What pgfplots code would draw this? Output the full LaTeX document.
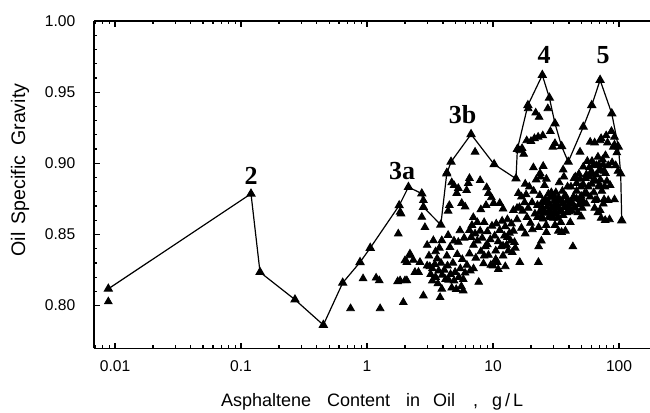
\documentclass[border=0pt]{standalone}
\usepackage{fontspec}
\setmainfont{Liberation Sans}
\newfontfamily\tnr{Liberation Serif}
\usepackage{pgfplots}
\pgfplotsset{compat=1.18}

\pgfplotstableread{
x y
0.00885 0.8028
0.74 0.798
0.93 0.819
1.18 0.8195
1.25 0.8176
1.27 0.798
1.77 0.8505
1.83 0.8657
1.86 0.8646
1.75 0.817
1.83 0.8176
1.94 0.8023
2.0 0.8176
2.07 0.8176
2.07 0.8305
2.19 0.8364
2.19 0.8352
2.33 0.832
2.40 0.8235
2.56 0.8235
2.0 0.8317
2.72 0.8622
2.80 0.874
2.88 0.855
2.80 0.807
2.63 0.8305
3.0 0.828
3.1 0.835
3.2 0.822
3.3 0.826
3.36 0.8458
3.45 0.829
3.5 0.82
3.6 0.833
3.7 0.8245
3.8 0.8058
3.86 0.83
3.92 0.8458
3.92 0.8117
3.5 0.838
3.3 0.8175
3.65 0.8155
3.0 0.8425
3.15 0.8275
3.75 0.8405
3.95 0.8215
4.1 0.825
4.2 0.8185
4.3 0.835
4.35 0.828
4.45 0.818
4.55 0.841
4.6 0.822
4.7 0.8125
4.8 0.830
4.9 0.8175
5.0 0.8235
5.1 0.8115
5.15 0.879
5.2 0.836
5.3 0.8446
5.35 0.82
5.46 0.8528
5.5 0.826
5.6 0.8135
5.64 0.872
5.7 0.8325
5.8 0.8185
5.9 0.8475
6.0 0.823
4.4 0.8495
4.9 0.8455
4.5 0.8705
4.7 0.8865
4.9 0.8845
5.3 0.8825
4.3 0.8935
4.4 0.8665
5.8 0.8105
6.17 0.881
6.36 0.886
6.5 0.853
6.5 0.8365
6.7 0.848
6.8 0.8565
6.97 0.862
7.0 0.8425
7.2 0.908
7.2 0.8505
7.3 0.8335
7.5 0.8585
7.5 0.8455
7.7 0.8165
7.9 0.888
7.9 0.8525
8.0 0.838
8.2 0.8475
8.4 0.8295
8.5 0.8585
8.7 0.8415
8.9 0.883
9.0 0.852
9.2 0.879
9.2 0.8355
9.5 0.8465
9.6 0.8285
9.7 0.876
9.8 0.856
6.2 0.8285
6.6 0.8245
7.0 0.826
8.0 0.8675
8.8 0.8705
6.0 0.8695
6.5 0.8895
8.5 0.835
9.0 0.843
10.0 0.828
10.1 0.872
10.3 0.849
10.5 0.8385
10.6 0.8575
10.8 0.8305
11.0 0.845
11.3 0.872
11.3 0.853
11.6 0.8415
11.8 0.8595
12.0 0.835
12.0 0.842
12.3 0.849
12.5 0.8555
12.8 0.8425
13.0 0.8605
13.0 0.848
13.2 0.8385
13.5 0.851
13.8 0.8455
14.0 0.8575
14.2 0.8375
14.5 0.8525
14.8 0.8445
15.0 0.8405
15.5 0.8605
15.9 0.879
15.5 0.8685
14.5 0.867
12.0 0.868
10.5 0.8325
11.0 0.8255
12.5 0.8275
16.2 0.869
16.3 0.8305
16.3 0.909
16.8 0.8545
17.0 0.9105
17.2 0.8665
17.5 0.9065
17.8 0.8725
18.0 0.8505
18.3 0.878
18.6 0.862
19.0 0.9385
19.0 0.8685
19.4 0.8835
19.8 0.858
20.0 0.9155
20.4 0.8725
20.9 0.897
21.0 0.8805
21.3 0.9175
21.5 0.8645
21.8 0.9355
22.0 0.8885
22.5 0.862
22.9 0.8305
22.5 0.8705
22.8 0.9185
23.0 0.855
23.2 0.9325
23.5 0.8775
23.5 0.866
23.6 0.893
23.8 0.8905
24.0 0.8625
24.2 0.8455
24.5 0.8725
24.5 0.869
24.8 0.9195
25.0 0.861
25.0 0.898
18.5 0.916
20.5 0.8535
23.0 0.8415
16.8 0.8765
18.0 0.8855
25.3 0.8665
25.6 0.8845
26.0 0.8745
26.0 0.865
26.4 0.8565
26.5 0.889
26.8 0.8695
27.0 0.873
27.2 0.9385
27.5 0.8785
27.5 0.866
27.8 0.8625
28.0 0.8715
28.5 0.9225
28.5 0.876
28.8 0.8655
29.0 0.8795
29.0 0.862
29.4 0.8685
29.8 0.9115
30.0 0.8615
30.0 0.869
30.5 0.8735
30.5 0.877
31.0 0.8655
31.0 0.914
31.5 0.8795
31.5 0.871
32.0 0.8685
32.0 0.864
32.5 0.8615
33.0 0.8755
33.0 0.869
33.5 0.8865
34.0 0.8665
34.0 0.874
34.5 0.8585
35.0 0.8715
35.0 0.866
35.0 0.8516
35.5 0.8805
36.0 0.8635
36.0 0.872
36.5 0.8905
37.0 0.8695
37.0 0.877
37.5 0.8525
38.0 0.8765
38.0 0.869
38.5 0.8655
39.0 0.8835
39.0 0.874
39.5 0.8695
26.5 0.8515
31.0 0.8565
33.0 0.8525
36.0 0.8955
40.0 0.866
40.5 0.8715
41.0 0.8585
41.5 0.8835
42.0 0.8665
42.0 0.873
43.0 0.8415
43.5 0.8765
44.0 0.8895
44.0 0.869
45.0 0.8685
46.0 0.8805
46.0 0.875
46.0 0.886
47.0 0.8655
48.0 0.8925
48.0 0.871
49.0 0.8745
49.0 0.889
49.0 0.908
50.0 0.8835
50.0 0.877
51.0 0.8685
52.0 0.8975
52.0 0.873
52.0 0.885
53.0 0.8785
54.0 0.8895
55.0 0.8715
55.0 0.879
55.0 0.892
56.0 0.9015
57.0 0.8835
58.0 0.8905
58.0 0.897
59.0 0.8765
59.0 0.915
45.0 0.8905
50.0 0.8625
60.0 0.894
60.5 0.8855
61 0.9015
62 0.8925
63 0.8795
63 0.899
63 0.888
64 0.9145
64.5 0.874
65 0.8875
66 0.8985
66 0.892
67 0.8745
68 0.9045
69 0.8835
69 0.899
70 0.8955
70 0.885
70.7 0.867
70.7 0.916
71 0.8885
72 0.9175
72 0.895
73 0.8805
74 0.9025
75 0.8715
75 0.899
76 0.8945
77 0.8835
77.6 0.860
78 0.9055
78 0.893
79 0.9195
80 0.8875
82 0.8985
82 0.874
84 0.8605
85 0.8845
87 0.9225
88 0.9005
90 0.9115
92 0.8745
92 0.913
94 0.8985
96 0.9075
98 0.8945
64 0.8685
68 0.8655
72 0.8615
76 0.8745
81 0.9145
92 0.9185
}\cloud

\pgfplotstableread{
x y
0.00885 0.8118
0.12 0.8786
0.1415 0.8235
0.268 0.8042
0.45 0.7864
0.641 0.8160
0.88 0.8305
1.06 0.8405
1.80 0.8704
2.13 0.8833
2.72 0.8787
2.80 0.8692
3.85 0.8568
4.29 0.8927
4.64 0.9010
6.69 0.9204
10.2 0.8993
15.2 0.8892
15.6 0.9100
18.9 0.9408
24.6 0.9620
28.0 0.9460
31.0 0.9280
35.0 0.9120
39.5 0.9010
52.0 0.9256
60.7 0.9408
70.7 0.9585
87.5 0.9350
98.7 0.9115
103 0.8927
105 0.8598
}\envelope

\begin{document}
\begin{tikzpicture}
\begin{axis}[
  scale only axis,
  width=277.85pt, height=163.65pt,
  xmode=log,
  xmin=0.00685, xmax=176,
  ymin=0.77, ymax=1.00,
  axis x line=box,
  axis y line=left,
  y axis line style={-},
  axis line style={line width=0.8pt},
  tick align=inside,
  major tick length=2.8pt,
  minor tick length=1.6pt,
  tick style={black, line width=0.6pt},
  log ticks with fixed point,
  ytick={0.80,0.85,0.90,0.95,1.00},
  minor y tick num=4,
  /pgf/number format/assume math mode=true,
  ticklabel style={font=\fontsize{7.8}{9}\selectfont},
  yticklabel style={/pgf/number format/fixed, /pgf/number format/fixed zerofill, /pgf/number format/precision=2, xshift=-6pt},
  xticklabel style={yshift=-2.5pt},
  xlabel={Asphaltene\hspace{8pt}Content\hspace{8pt}in\hspace{6.5pt}Oil\hspace{9pt},\hspace{7pt}g\hspace{1.5pt}/\hspace{1.5pt}L},
  ylabel={Oil\hspace{4pt}Specific\hspace{5pt}Gravity},
  xlabel style={font=\fontsize{9}{10}\selectfont, at={([yshift=-27pt]axis description cs:0.5,0)}, anchor=center},
  ylabel style={font=\fontsize{9.8}{10}\selectfont, at={([xshift=-37.15pt]axis description cs:0,0.545)}, anchor=center},
  clip=false,
]
\addplot[black, line width=0.6pt, mark=triangle*, mark size=2.2pt] table {\envelope};
\addplot[black, only marks, mark=triangle*, mark size=2.2pt] table {\cloud};
\node[font=\tnr\bfseries\fontsize{13}{13}\selectfont] at (axis cs:0.12,0.8915) {2};
\node[font=\tnr\bfseries\fontsize{13}{13}\selectfont] at (axis cs:1.90,0.8944) {3a};
\node[font=\tnr\bfseries\fontsize{13}{13}\selectfont] at (axis cs:5.73,0.9345) {3b};
\node[font=\tnr\bfseries\fontsize{13}{13}\selectfont] at (axis cs:25.4,0.976) {4};
\node[font=\tnr\bfseries\fontsize{13}{13}\selectfont] at (axis cs:74.6,0.976) {5};
\coordinate (SW) at (rel axis cs:0,0);
\coordinate (NE) at (rel axis cs:1,1);
\end{axis}
\pgfresetboundingbox
\path[use as bounding box] ([shift={(-47.15pt,-31.85pt)}]SW) rectangle ([shift={(0pt,10.5pt)}]NE);
\end{tikzpicture}
\end{document}
